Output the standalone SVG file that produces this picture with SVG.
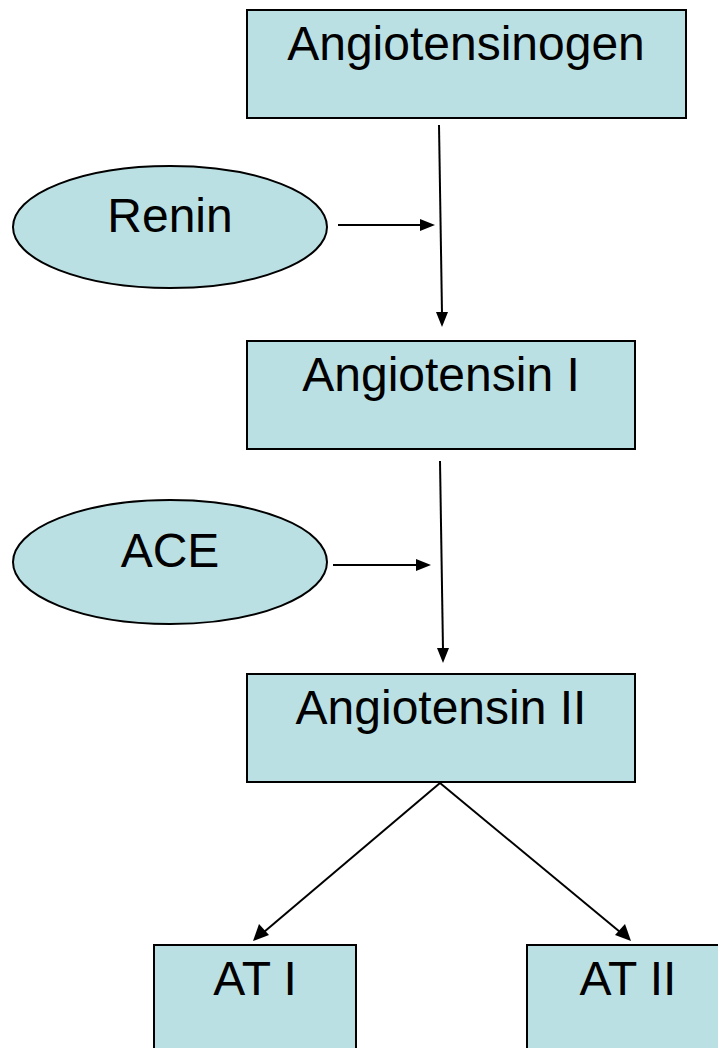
<svg xmlns="http://www.w3.org/2000/svg" width="718" height="1048" viewBox="0 0 718 1048">
<style>
.box{fill:#BBE0E3;stroke:#000;stroke-width:2}
.lbl{font-family:"Liberation Sans",Arial,sans-serif;font-size:48px;fill:#000;text-anchor:middle}
.ln{stroke:#000;stroke-width:2;fill:none}
.hd{fill:#000}
</style>
<rect width="718" height="1048" fill="#fff"/>
<g id="connectors">
<line class="ln" x1="439" y1="125" x2="442" y2="314"/>
<path class="hd" d="M436,312 L448,312 L442,327 z"/>
<line class="ln" x1="338" y1="225" x2="422" y2="225"/>
<path class="hd" d="M420,219 L435,225 L420,231 z"/>
<line class="ln" x1="440" y1="461" x2="443" y2="650"/>
<path class="hd" d="M437,648 L449,648 L443,663 z"/>
<line class="ln" x1="333" y1="565" x2="418" y2="565"/>
<path class="hd" d="M416,559 L431,565 L416,571 z"/>
<line class="ln" x1="440" y1="783" x2="264" y2="932"/>
<path class="hd" d="M253,941 L259,924 L269,935 z"/>
<line class="ln" x1="440" y1="783" x2="620" y2="932"/>
<path class="hd" d="M631,941 L615,935 L625,924 z"/>
</g>
<g id="angiotensinogen">
<rect class="box" x="247" y="10" width="439" height="108"/>
<text class="lbl" x="466" y="60">Angiotensinogen</text>
</g>
<g id="renin">
<ellipse class="box" cx="170" cy="227" rx="157" ry="61"/>
<text class="lbl" x="170" y="232">Renin</text>
</g>
<g id="angiotensin1">
<rect class="box" x="247" y="341" width="388" height="108"/>
<text class="lbl" x="441" y="391">Angiotensin I</text>
</g>
<g id="ace">
<ellipse class="box" cx="170" cy="562" rx="157" ry="62"/>
<text class="lbl" x="170" y="567">ACE</text>
</g>
<g id="angiotensin2">
<rect class="box" x="247" y="674" width="388" height="108"/>
<text class="lbl" x="441" y="724">Angiotensin II</text>
</g>
<g id="at1">
<rect class="box" x="154" y="945" width="202" height="120"/>
<text class="lbl" x="255" y="995">AT I</text>
</g>
<g id="at2">
<rect class="box" x="527" y="945" width="202" height="120"/>
<text class="lbl" x="628" y="995">AT II</text>
</g>
</svg>
